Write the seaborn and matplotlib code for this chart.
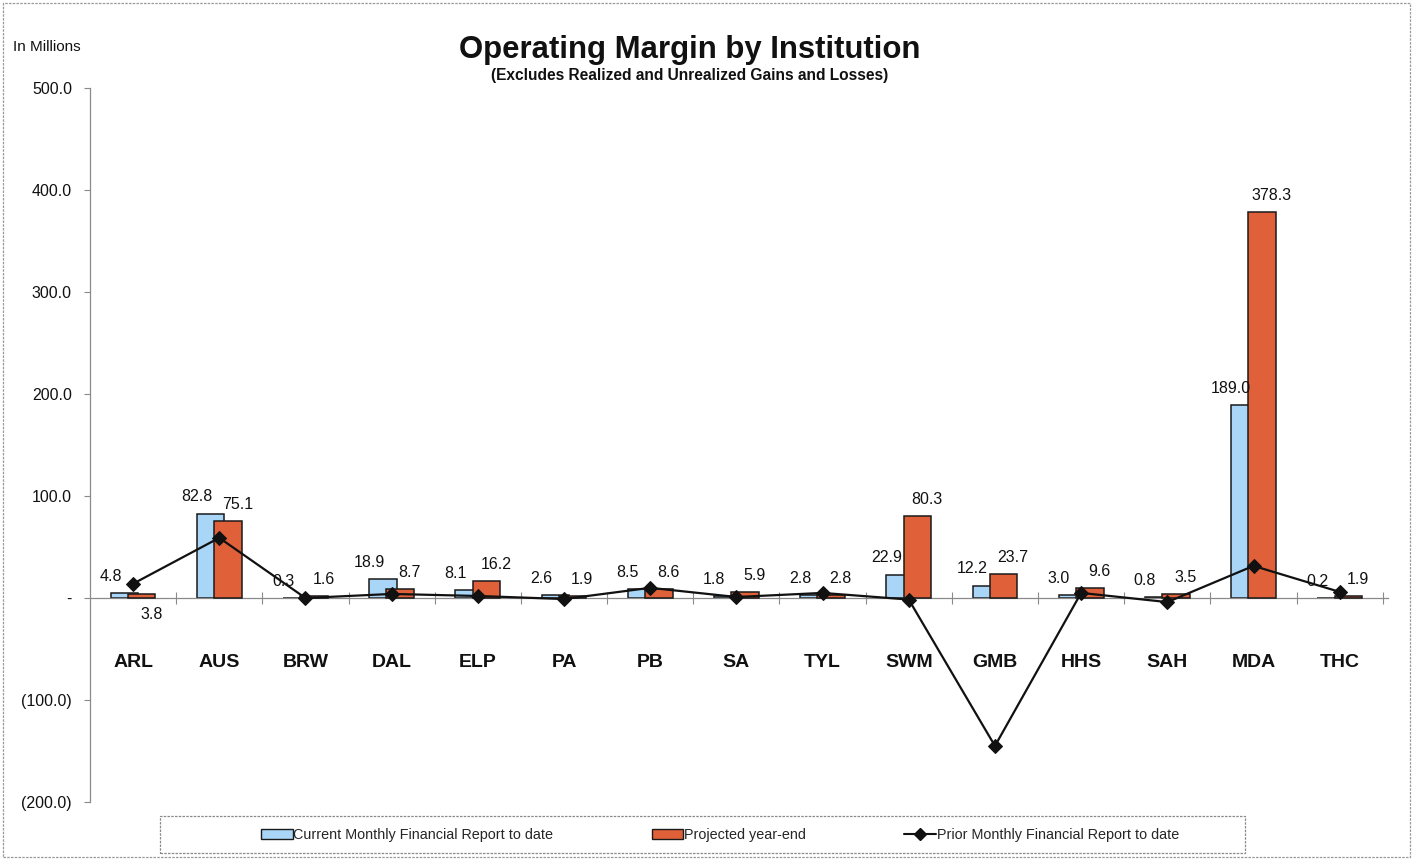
import numpy as np
import pandas as pd
import matplotlib
matplotlib.use("Agg")
import matplotlib.pyplot as plt
from matplotlib.patches import Patch, Rectangle
from matplotlib.lines import Line2D
import seaborn as sns

# Operating margin by institution, in millions
institutions = ["ARL", "AUS", "BRW", "DAL", "ELP", "PA", "PB", "SA", "TYL",
                "SWM", "GMB", "HHS", "SAH", "MDA", "THC"]
current_to_date = [4.8, 82.8, 0.3, 18.9, 8.1, 2.6, 8.5, 1.8, 2.8,
                   22.9, 12.2, 3.0, 0.8, 189.0, 0.2]
projected_year_end = [3.8, 75.1, 1.6, 8.7, 16.2, 1.9, 8.6, 5.9, 2.8,
                      80.3, 23.7, 9.6, 3.5, 378.3, 1.9]
prior_to_date = [14, 59, 0, 4, 2, -1, 10, 1, 5, -1.5, -145, 5, -4, 31.5, 6]
y_ticks = [-200, -100, 0, 100, 200, 300, 400, 500]

# projected labels that sit under their bar
labels_below = ["ARL"]

sns.set_theme(style="white")
plt.rcParams["font.family"] = ["Liberation Sans", "DejaVu Sans"]

CUR_COLOR = "#A9D5F6"
PROJ_COLOR = "#E0603A"
GRID_GRAY = "#8a8a8a"

fig = plt.figure(figsize=(14.17, 8.60), dpi=100)
ax = fig.add_axes([0.0635, 0.0674, 0.916, 0.8303])

pos = np.arange(len(institutions))
df = pd.DataFrame({
    "inst": institutions,
    "pos": pos,
    "current": current_to_date,
    "projected": projected_year_end,
    "prior": prior_to_date,
})

# overlapping bars: current behind, projected in front
sns.barplot(x=df["pos"] - 0.1, y=df["current"], native_scale=True, width=0.32,
            color=CUR_COLOR, saturation=1, edgecolor="#1a1a1a", linewidth=1.1,
            errorbar=None, ax=ax, zorder=2)
sns.barplot(x=df["pos"] + 0.1, y=df["projected"], native_scale=True, width=0.32,
            color=PROJ_COLOR, saturation=1, edgecolor="#1a1a1a", linewidth=1.1,
            errorbar=None, ax=ax, zorder=3)
sns.lineplot(x=df["pos"], y=df["prior"], color="#111111", linewidth=1.6,
             marker="D", markersize=7, markeredgecolor="#111111", ax=ax, zorder=4)

# value labels and institution names
for i, row in df.iterrows():
    ax.annotate(f"{row['current']:.1f}", xy=(row["pos"] - 0.26, row["current"]),
                xytext=(0, 12), textcoords="offset points", ha="center", va="center",
                fontsize=11.5, color="#111111")
    below = row["inst"] in labels_below
    yv = min(row["projected"], 0) if below else row["projected"]
    ax.annotate(f"{row['projected']:.1f}", xy=(row["pos"] + 0.21, yv),
                xytext=(0, -12 if below else 12), textcoords="offset points",
                ha="center", va="center", fontsize=11.5, color="#111111")
    ax.text(row["pos"], -63, row["inst"], ha="center", va="center",
            fontsize=14, fontweight="bold", color="#111111")

ax.set_xlim(-0.5, 14.56)
ax.set_ylim(-200, 500)
ax.set_xlabel("")
ax.set_ylabel("")


def fmt(v):
    if v == 0:
        return "-"
    if v < 0:
        return f"({abs(v):.1f})"
    return f"{v:.1f}"


ax.set_yticks(y_ticks)
ax.set_yticklabels([fmt(v) for v in y_ticks], fontsize=11.5, color="#111111")
ax.set_xticks(pos + 0.5)
ax.set_xticklabels([])
ax.tick_params(axis="y", direction="out", length=4, width=0.8, color=GRID_GRAY, pad=9, left=True)
ax.tick_params(axis="x", direction="inout", length=9, width=0.8, color=GRID_GRAY, bottom=True)

for side in ["top", "right"]:
    ax.spines[side].set_visible(False)
for side in ["left", "bottom"]:
    ax.spines[side].set_color(GRID_GRAY)
    ax.spines[side].set_linewidth(0.9)
    ax.spines[side].set_linestyle((0, (2, 1)))
ax.spines["bottom"].set_position(("data", 0))
ax.grid(False)
ax.set_facecolor("white")

# titles
fig.text(0.487, 0.942, "Operating Margin by Institution", ha="center", va="center",
         fontsize=22.4, fontweight="bold", color="#111111")
fig.text(0.487, 0.912, "(Excludes Realized and Unrealized Gains and Losses)", ha="center",
         va="center", fontsize=11.2, fontweight="bold", color="#111111")
fig.text(0.009, 0.945, "In Millions", ha="left", va="center", fontsize=11, color="#111111")

# legend
handles = [
    Patch(facecolor=CUR_COLOR, edgecolor="#1a1a1a", linewidth=1),
    Patch(facecolor=PROJ_COLOR, edgecolor="#1a1a1a", linewidth=1),
    Line2D([0], [0], color="#111111", lw=1.5, marker="D", markersize=6),
]
labels = ["Current Monthly Financial Report to date", "Projected year-end",
          "Prior Monthly Financial Report to date"]
fig.legend(handles, labels, loc="center", bbox_to_anchor=(0.508, 0.029), ncol=3,
           frameon=False, fontsize=10.4, handlelength=2.2, handleheight=0.65,
           handletextpad=0.05, columnspacing=6.8)
fig.add_artist(Rectangle((160 / 1417, 1 - 853 / 860), 1085 / 1417, 37 / 860,
                         transform=fig.transFigure, fill=False, edgecolor=GRID_GRAY,
                         linewidth=0.9, linestyle=(0, (2, 1))))

# outer border
fig.add_artist(Rectangle((0.002, 0.004), 0.993, 0.992, transform=fig.transFigure,
                         fill=False, edgecolor="#9a9a9a", linewidth=0.9,
                         linestyle=(0, (2, 1))))

fig.savefig("out.png", dpi=100, facecolor="white")
